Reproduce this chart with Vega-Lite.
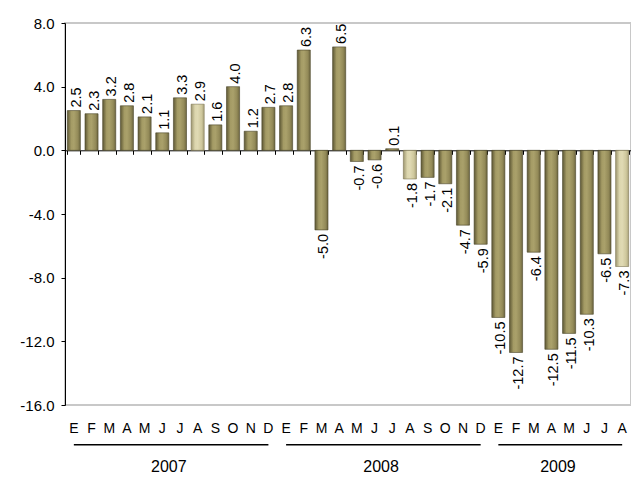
{
  "$schema": "https://vega.github.io/schema/vega-lite/v6.json",
  "width": 566,
  "height": 382,
  "autosize": {"type": "none"},
  "padding": {"left": 65, "top": 23, "right": 0, "bottom": 75},
  "background": "white",
  "config": {
    "font": "Liberation Sans",
    "view": {"stroke": "#c8c8c8", "strokeWidth": 2},
    "axis": {"grid": false},
    "locale": {
      "number": {"decimal": ".", "thousands": ",", "grouping": [3], "currency": ["$", ""], "minus": "-"}
    }
  },
  "datasets": {
    "bars": [
      {"key": "2007-01", "value": 2.5, "light": false},
      {"key": "2007-02", "value": 2.3, "light": false},
      {"key": "2007-03", "value": 3.2, "light": false},
      {"key": "2007-04", "value": 2.8, "light": false},
      {"key": "2007-05", "value": 2.1, "light": false},
      {"key": "2007-06", "value": 1.1, "light": false},
      {"key": "2007-07", "value": 3.3, "light": false},
      {"key": "2007-08", "value": 2.9, "light": true},
      {"key": "2007-09", "value": 1.6, "light": false},
      {"key": "2007-10", "value": 4.0, "light": false},
      {"key": "2007-11", "value": 1.2, "light": false},
      {"key": "2007-12", "value": 2.7, "light": false},
      {"key": "2008-01", "value": 2.8, "light": false},
      {"key": "2008-02", "value": 6.3, "light": false},
      {"key": "2008-03", "value": -5.0, "light": false},
      {"key": "2008-04", "value": 6.5, "light": false},
      {"key": "2008-05", "value": -0.7, "light": false},
      {"key": "2008-06", "value": -0.6, "light": false},
      {"key": "2008-07", "value": 0.1, "light": false},
      {"key": "2008-08", "value": -1.8, "light": true},
      {"key": "2008-09", "value": -1.7, "light": false},
      {"key": "2008-10", "value": -2.1, "light": false},
      {"key": "2008-11", "value": -4.7, "light": false},
      {"key": "2008-12", "value": -5.9, "light": false},
      {"key": "2009-01", "value": -10.5, "light": false},
      {"key": "2009-02", "value": -12.7, "light": false},
      {"key": "2009-03", "value": -6.4, "light": false},
      {"key": "2009-04", "value": -12.5, "light": false},
      {"key": "2009-05", "value": -11.5, "light": false},
      {"key": "2009-06", "value": -10.3, "light": false},
      {"key": "2009-07", "value": -6.5, "light": false},
      {"key": "2009-08", "value": -7.3, "light": true}
    ],
    "years": [
      {"year": "2007", "first": "2007-01", "last": "2007-12", "mid": "2007-06", "lineY": -18.5, "textY": -19.9},
      {"year": "2008", "first": "2008-01", "last": "2008-12", "mid": "2008-06", "lineY": -18.5, "textY": -19.9},
      {"year": "2009", "first": "2009-01", "last": "2009-08", "mid": "2009-04", "lineY": -18.5, "textY": -19.9}
    ]
  },
  "resolve": {"axis": {"x": "independent"}},
  "layer": [
    {
      "data": {"name": "bars"},
      "transform": [{"filter": "!datum.light"}],
      "mark": {
        "type": "bar",
        "stroke": "#4a4528",
        "strokeWidth": 0.6,
        "color": {
          "gradient": "linear", "x1": 0, "x2": 1, "y1": 0, "y2": 0,
          "stops": [
            {"offset": 0, "color": "#5e5835"},
            {"offset": 0.3, "color": "#a49b65"},
            {"offset": 0.5, "color": "#aaa16b"},
            {"offset": 0.8, "color": "#948b59"},
            {"offset": 1, "color": "#6e6740"}
          ]
        }
      },
      "encoding": {
        "x": {
          "field": "key", "type": "ordinal", "sort": null,
          "scale": {"paddingInner": 0.26, "paddingOuter": 0.13},
          "axis": {
            "orient": "bottom",
            "offset": -254.7,
            "labels": false,
            "title": null,
            "domainColor": "black",
            "domainWidth": 1,
            "tickColor": "black",
            "tickSize": 4,
            "tickBand": "extent"
          }
        },
        "y": {
          "field": "value", "type": "quantitative",
          "scale": {"domain": [-16, 8], "nice": false, "zero": false},
          "axis": {
            "values": [-16, -12, -8, -4, 0, 4, 8],
            "format": ".1f",
            "title": null,
            "domainColor": "black",
            "tickColor": "black",
            "tickSize": 4,
            "labelFontSize": 15,
            "labelColor": "black",
            "labelPadding": 7
          }
        }
      }
    },
    {
      "data": {"name": "bars"},
      "transform": [{"filter": "datum.light"}],
      "mark": {
        "type": "bar",
        "stroke": "#7d7653",
        "strokeWidth": 0.6,
        "color": {
          "gradient": "linear", "x1": 0, "x2": 1, "y1": 0, "y2": 0,
          "stops": [
            {"offset": 0, "color": "#9e9770"},
            {"offset": 0.3, "color": "#dcd6ae"},
            {"offset": 0.5, "color": "#e0dab4"},
            {"offset": 0.8, "color": "#cfc89d"},
            {"offset": 1, "color": "#a9a27b"}
          ]
        }
      },
      "encoding": {
        "x": {"field": "key", "type": "ordinal", "sort": null, "axis": null},
        "y": {"field": "value", "type": "quantitative"}
      }
    },
    {
      "data": {"name": "bars"},
      "transform": [{"filter": "datum.value >= 0"}],
      "mark": {"type": "text", "angle": 270, "align": "left", "baseline": "middle", "dx": 3, "dy": 3, "fontSize": 14.5, "color": "black"},
      "encoding": {
        "x": {
          "field": "key", "type": "ordinal", "sort": null,
          "axis": {
            "orient": "bottom",
            "domain": false,
            "ticks": false,
            "title": null,
            "labelAngle": 0,
            "labelFontSize": 14,
            "labelColor": "black",
            "labelPadding": 16,
            "labelExpr": "['E','F','M','A','M','J','J','A','S','O','N','D'][toNumber(slice(datum.value, 5)) - 1]"
          }
        },
        "y": {"field": "value", "type": "quantitative"},
        "text": {"field": "value", "type": "quantitative", "format": ".1f"}
      }
    },
    {
      "data": {"name": "bars"},
      "transform": [{"filter": "datum.value < 0"}],
      "mark": {"type": "text", "angle": 270, "align": "right", "baseline": "middle", "dx": -4, "dy": 3, "fontSize": 14.5, "color": "black"},
      "encoding": {
        "x": {"field": "key", "type": "ordinal", "sort": null, "axis": null},
        "y": {"field": "value", "type": "quantitative"},
        "text": {"field": "value", "type": "quantitative", "format": ".1f"}
      }
    },
    {
      "data": {"name": "years"},
      "mark": {"type": "rule", "color": "black", "strokeWidth": 1.5},
      "encoding": {
        "x": {"field": "first", "type": "ordinal", "axis": null},
        "x2": {"field": "last"},
        "y": {"field": "lineY", "type": "quantitative"}
      }
    },
    {
      "data": {"name": "years"},
      "mark": {"type": "text", "fontSize": 16, "color": "black", "baseline": "middle", "align": "center"},
      "encoding": {
        "x": {"field": "mid", "type": "ordinal", "bandPosition": 1, "axis": null},
        "y": {"field": "textY", "type": "quantitative"},
        "text": {"field": "year"}
      }
    }
  ]
}
